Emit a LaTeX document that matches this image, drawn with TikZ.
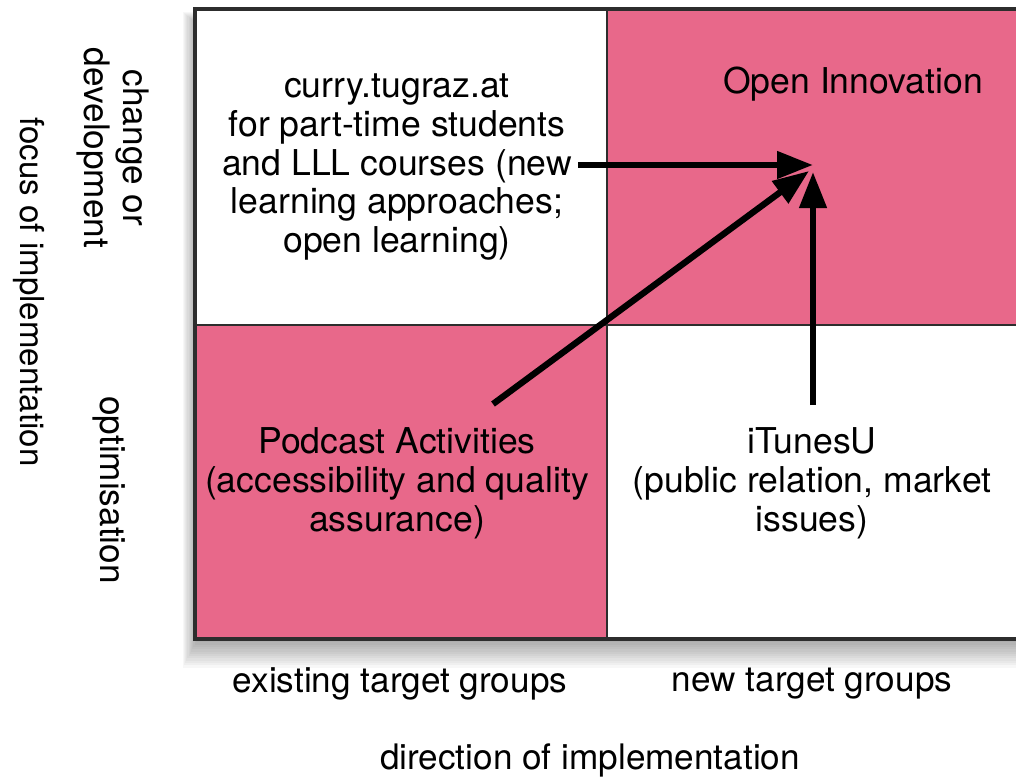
\documentclass[tikz,border=0pt]{standalone}
\usepackage{fontspec}
\setmainfont{TeX Gyre Heros}
\usetikzlibrary{arrows.meta}
\definecolor{cellpink}{RGB}{232,104,138}
\definecolor{gridline}{RGB}{45,45,45}
\tikzset{
  celltext/.style={align=center, font=\fontsize{25.3}{27.6}\selectfont, inner sep=0pt},
  axistext/.style={align=center, font=\fontsize{25}{27.6}\selectfont, inner sep=0pt},
  bigarrow/.style={line width=4.5pt, -{Triangle[length=0.9cm, width=0.66cm]}}
}
\begin{document}
\begin{tikzpicture}[x=0.025cm, y=-0.025cm]
  \useasboundingbox (0,0) rectangle (1016,776);
  \clip (0,0) rectangle (1016,776);
  % soft shadow under the matrix
  \foreach \i in {1,...,12}
    \fill[black, opacity=0.03] (197-1.2*\i, 24-1.0*\i) rectangle (1030+1.6*\i, 640+2.3*\i);
  \fill[white] (195,9) rectangle (1030,639);
  \fill[cellpink] (607,9) rectangle (1030,325);
  \fill[cellpink] (195,325) rectangle (607,639);
  \draw[gridline, line width=1.4pt] (607,9) -- (607,639);
  \draw[gridline, line width=1.4pt] (195,325) -- (1030,325);
  \draw[gridline, line width=2.6pt] (195,9) rectangle (1030,639);

  \node[celltext] (curry) at (397,167) {curry.tugraz.at\\for part-time students\\and LLL courses (new\\learning approaches;\\open learning)};
  \node[celltext] (open) at (853,84) {Open Innovation};
  \node[celltext] (podcast) at (397,483) {Podcast Activities\\(accessibility and quality\\assurance)};
  \node[celltext] (itunes) at (812,483) {iTunesU\\(public relation, market\\issues)};

  \node[axistext, rotate=-90] (change) at (113,148) {change or\\development};
  \node[axistext, rotate=-90] (optim) at (109,490) {optimisation};
  \node[axistext, rotate=-90, font=\fontsize{23.5}{27}\selectfont] (focus) at (29,292) {focus of implementation};
  \node[axistext] (existing) at (400,684) {existing target groups};
  \node[axistext] (newgroups) at (812,684) {new target groups};
  \node[axistext] (direction) at (590,760) {direction of implementation};

  \coordinate (target) at (813,168);
  \coordinate (fromcurry) at (578,165);
  \coordinate (frompodcast) at (493,404);
  \coordinate (fromitunes) at (813,405);
  \draw[bigarrow] (fromcurry) -- (target |- fromcurry);
  \draw[bigarrow] (frompodcast) -- (809,171);
  \draw[bigarrow] (fromitunes) -- (813,172);
\end{tikzpicture}
\end{document}
